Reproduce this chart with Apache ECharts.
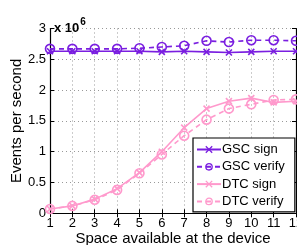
<!DOCTYPE html>
<html><head><meta charset="utf-8">
<script src="https://cdn.jsdelivr.net/npm/echarts@6/dist/echarts.min.js"></script>
<style>html,body{margin:0;padding:0;background:#fff}#c{width:297px;height:245px}</style>
</head><body><div id="c"></div>
<script>
const xValues = [1,2,3,4,5,6,7,8,9,10,11,12];
const gscSign   = [2.63,2.63,2.63,2.63,2.63,2.62,2.63,2.62,2.61,2.62,2.63,2.63];
const gscVerify = [2.67,2.67,2.67,2.67,2.68,2.70,2.72,2.80,2.78,2.81,2.81,2.80];
const dtcSign   = [0.07,0.12,0.23,0.40,0.66,1.00,1.39,1.70,1.82,1.87,1.80,1.82];
const dtcVerify = [0.07,0.12,0.22,0.38,0.65,0.955,1.26,1.52,1.70,1.77,1.84,1.85];
const seriesNames = ['GSC sign','GSC verify','DTC sign','DTC verify'];
const yTicks = ['0','0.5','1','1.5','2','2.5','3'];
const SCALE = 1e6;

const purple = '#7a1ee0', pink = '#ff99cc';
const font = 'Liberation Sans, Arial, sans-serif';
const xSym = 'path://M0,0L10,10M10,0L0,10';
function mk(name, data, color, dashed, sym) {
  return {
    name, type: 'line',
    data: data.map((v,i)=>[xValues[i], v*SCALE]),
    symbol: sym, symbolSize: sym==='circle' ? 9 : 6,
    showSymbol: true,
    lineStyle: {color, width: 1.6, type: dashed ? [5,4] : 'solid'},
    itemStyle: {color: 'transparent', borderColor: color, borderWidth: 1.6},
    animation: false, z: 3
  };
}
const chart = echarts.init(document.getElementById('c'), null, {renderer:'canvas'});
const axCommon = {
  axisLine:{show:true, lineStyle:{color:'#000', width:1.2}},
  axisTick:{show:true, inside:true, length:4, lineStyle:{color:'#000'}},
};
chart.setOption({
  backgroundColor:'#fff',
  animation:false,
  title:{text:'{a|x 10}{b|6}', left:49, top:12, textStyle:{rich:{
    a:{fontSize:13, fontFamily:font, color:'#000', verticalAlign:'bottom'},
    b:{fontSize:10, fontFamily:font, color:'#000', verticalAlign:'top', padding:[0,0,8,1]}
  }}},
  grid:{left:50, right:1, top:28.5, bottom:31.7, show:false, containLabel:false, outerBoundsMode:'none'},
  legend:{
    data: seriesNames, orient:'vertical', left:193, top:138,
    backgroundColor:'#fff', borderColor:'#000', borderWidth:1.2, borderRadius:0,
    padding:[4,10,3,3], itemGap:2.3, itemWidth:24, itemHeight:8,
    textStyle:{fontFamily:font, fontSize:13, color:'#000', padding:[0,0,0,-4], lineHeight:15},
    itemStyle:{borderWidth:1.3}
  },
  xAxis:[
    Object.assign({type:'value', min:1, max:12, interval:1,
      name:'Space available at the device', nameLocation:'middle', nameGap:18, nameMoveOverlap:false,
      nameTextStyle:{fontFamily:font, fontSize:15, color:'#000'},
      axisLabel:{fontFamily:font, fontSize:13, color:'#000', margin:4},
      splitLine:{show:true, lineStyle:{color:'#999', type:[1,3], width:1}}}, axCommon),
    Object.assign({type:'value', min:1, max:12, interval:1, position:'top',
      axisLabel:{show:false}, splitLine:{show:false}}, axCommon)
  ],
  yAxis:[
    Object.assign({type:'value', min:0, max:3*SCALE, interval:0.5*SCALE,
      name:'Events per second', nameLocation:'middle', nameGap:26, nameMoveOverlap:false,
      nameTextStyle:{fontFamily:font, fontSize:15, color:'#000'},
      axisLabel:{fontFamily:font, fontSize:13, color:'#000', margin:4,
        formatter:(v)=>yTicks[Math.round(v/(0.5*SCALE))]},
      splitLine:{show:true, lineStyle:{color:'#999', type:[1,3], width:1}}}, axCommon),
    Object.assign({type:'value', min:0, max:3*SCALE, interval:0.5*SCALE, position:'right',
      axisLabel:{show:false}, splitLine:{show:false}}, axCommon)
  ],
  series:[
    mk(seriesNames[0], gscSign, purple, false, xSym),
    mk(seriesNames[1], gscVerify, purple, true, 'circle'),
    mk(seriesNames[2], dtcSign, pink, false, xSym),
    mk(seriesNames[3], dtcVerify, pink, true, 'circle')
  ]
});
</script></body></html>
